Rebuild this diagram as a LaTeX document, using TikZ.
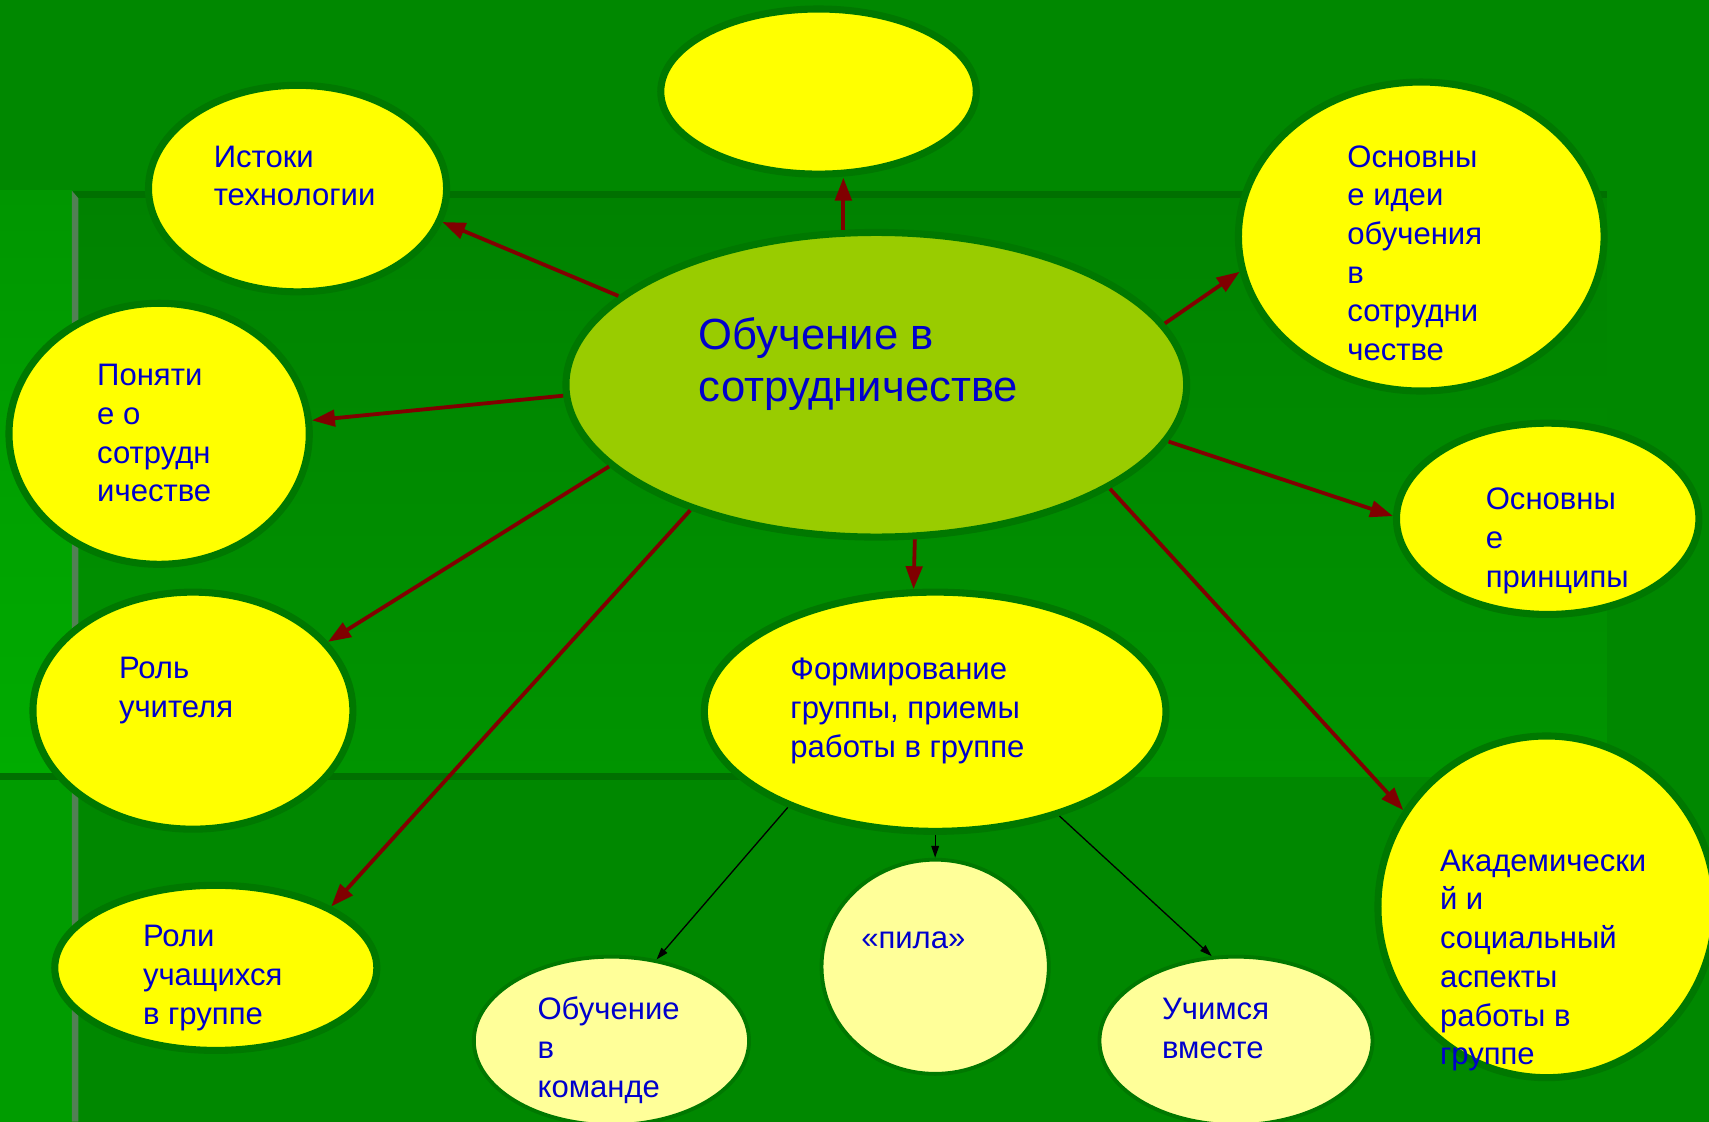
\documentclass[tikz,border=0pt]{standalone}
\usepackage{fontspec}
\setmainfont{Liberation Sans}
\usetikzlibrary{shapes.geometric,arrows.meta}
\definecolor{bgmain}{RGB}{0,136,0}
\definecolor{bgpanelA}{RGB}{0,130,0}
\definecolor{bgpanelB}{RGB}{0,148,0}
\definecolor{bgleftA}{RGB}{0,150,0}
\definecolor{bgleftB}{RGB}{0,172,0}
\definecolor{bgleftC}{RGB}{0,156,0}
\definecolor{bandcol}{RGB}{0,112,0}
\definecolor{graycol}{RGB}{82,128,84}
\definecolor{ellborder}{RGB}{0,120,0}
\definecolor{yellowfill}{RGB}{255,255,0}
\definecolor{lightfill}{RGB}{255,255,153}
\definecolor{centerfill}{RGB}{153,204,0}
\definecolor{txtblue}{RGB}{0,0,204}
\definecolor{arrred}{RGB}{128,0,0}
\begin{document}
\begin{tikzpicture}[x=1pt,y=-1pt,
  ell/.style={ellipse,draw=ellborder,line width=6.5pt,fill=yellowfill,inner sep=0pt},
  lightell/.style={ellipse,draw=ellborder,line width=3.5pt,fill=lightfill,inner sep=0pt},
  sz/.style 2 args={minimum width=#1pt,minimum height=#2pt},
  txt/.style={anchor=west,align=left,inner sep=0pt,text=txtblue,font=\fontsize{28.5pt}{35.5pt}\selectfont},
  bigtxt/.style={anchor=west,align=left,inner sep=0pt,text=txtblue,font=\fontsize{40pt}{48pt}\selectfont},
  redarr/.style={draw=arrred,line width=3.5pt,-{Triangle[length=21pt,width=15pt]}},
  blkarr/.style={draw=black,line width=1.2pt,-{Triangle[length=11pt,width=7pt]}}]
\useasboundingbox (0,0) rectangle (1568,1029);
\clip (0,0) rectangle (1568,1029);
% background
\fill[bgmain] (0,0) rectangle (1568,1029);
\shade[top color=bgleftA,bottom color=bgleftB] (0,175) rectangle (66,712);
\fill[bgleftC] (0,712) rectangle (66,1029);
\shade[top color=bgpanelA,bottom color=bgpanelB] (72,182) rectangle (1474,712);
\fill[bandcol] (66,175) rectangle (1474,182);
\fill[bandcol] (0,709) rectangle (760,716);
\fill[graycol] (66,175) -- (72,182) -- (72,1029) -- (66,1029) -- cycle;
% nodes
\node[ell,sz={289.5}{151.5}] (top) at (751,84) {};
\node[ell,sz={273.5}{189.5}] (ist) at (273,173) {};
\node[ell,sz={275.5}{239.5}] (pon) at (146,398) {};
\node[ell,sz={293.5}{217.5}] (rol) at (177,652) {};
\node[ell,sz={295.5}{151.5}] (rli) at (198,888) {};
\node[ell,sz={569.5}{279.5},fill=centerfill] (cen) at (804,353) {};
\node[ell,sz={335.5}{283.5}] (osn) at (1304,217) {};
\node[ell,sz={277.5}{175.5}] (pri) at (1420,476) {};
\node[ell,sz={423.5}{219.5}] (frm) at (858,653) {};
\node[ell,sz={309.5}{313.5}] (aka) at (1419,832) {};
\node[lightell,sz={252.5}{154.5}] (kom) at (561,955) {};
\node[lightell,sz={208.5}{196.5}] (pil) at (858,887) {};
\node[lightell,sz={250.5}{154.5}] (uch) at (1134,955) {};
% texts
\node[txt] (tist) at (196,164) {\strut Истоки\\\strut технологии};
\node[txt] (tpon) at (89,400) {\strut Поняти\\\strut е о\\\strut сотрудн\\\strut ичестве};
\node[txt] (trol) at (109,633) {\strut Роль\\\strut учителя};
\node[txt] (trli) at (131,897) {\strut Роли\\\strut учащихся\\\strut в группе};
\node[bigtxt] (tcen) at (641,335) {\strut Обучение в\\\strut сотрудничестве};
\node[txt] (tosn) at (1236,235) {\strut Основны\\\strut е идеи\\\strut обучения\\\strut в\\\strut сотрудни\\\strut честве};
\node[txt] (tpri) at (1363,496) {\strut Основны\\\strut е\\\strut принципы};
\node[txt] (tfrm) at (725,652) {\strut Формирование\\\strut группы, приемы\\\strut работы в группе};
\node[txt] (taka) at (1321,881) {\strut Академически\\\strut й и\\\strut социальный\\\strut аспекты\\\strut работы в\\\strut группе};
\node[txt] (tkom) at (493,964) {\strut Обучение\\\strut в\\\strut команде};
\node[txt] (tpil) at (790,863) {\strut «пила»};
\node[txt] (tuch) at (1066,946) {\strut Учимся\\\strut вместе};
% red arrows
\draw[redarr] (cen.102) -- (cen.102 |- top.south);
\draw[redarr] (cen.161.6) -- (ist.-13.1);
\draw[redarr] (cen.182.2) -- (pon.5.3);
\draw[redarr] (cen.197.7) -- (rol.27.3);
\draw[redarr] (cen.214.3) -- (rli.28);
\draw[redarr] (cen.-76.7) -- (frm.100.2);
\draw[redarr] (cen.12.3) -- (osn.191.6);
\draw[redarr] (cen.-11.6) -- (pri.179.2);
\draw[redarr] (cen.-24.2) -- (aka.146.9);
% black arrows
\draw[blkarr] (frm.213) -- (kom.61.1);
\draw[blkarr] (frm.south) -- (pil.north);
\draw[blkarr] (frm.-40.3) -- (uch.106.4);
\end{tikzpicture}
\end{document}
